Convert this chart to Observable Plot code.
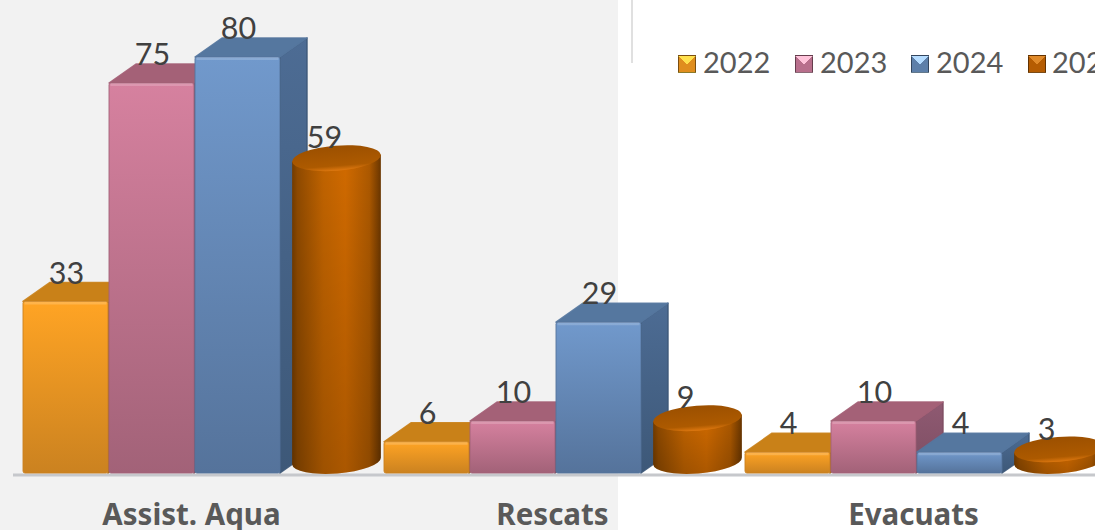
<!DOCTYPE html>
<html><head><meta charset="utf-8">
<script src="https://cdn.jsdelivr.net/npm/d3@7"></script>
<script src="https://cdn.jsdelivr.net/npm/@observablehq/plot@0.6"></script>
<style>
html,body{margin:0;padding:0;width:1095px;height:530px;overflow:hidden;background:#fff}
#wrap{position:relative;width:1095px;height:530px;overflow:hidden;background:linear-gradient(to right,#f2f2f2 618px,#fff 618px)}
#wrap svg.plot, #wrap figure{background:transparent!important;margin:0}
#rule{position:absolute;left:631px;top:0;width:2px;height:63px;background:#e0e0e0}
#legend{position:absolute;left:0;top:0;width:1095px;height:100px;font:29px Lato,sans-serif;color:#595959}
#legend span{position:absolute;top:43px;line-height:38px;white-space:nowrap}
#legend i{position:absolute;top:55px;width:16px;height:16px;border:1px solid rgba(0,0,0,.45)}
</style></head>
<body><div id="wrap"><div id="rule"></div><div id="legend"></div></div>
<script>
const categories = ["Assist. Aqua", "Rescats", "Evacuats"];
const years = ["2022", "2023", "2024", "2025"];
const v2022 = [33, 6, 4];
const v2023 = [75, 10, 10];
const v2024 = [80, 29, 4];
const v2025 = [59, 9, 3];
const seriesValues = [v2022, v2023, v2024, v2025];
const frontTop = ["#ffa424", "#d6819f", "#7199cc", "#d06a00"];
const frontBottom = ["#cb8220", "#a26278", "#55739b", "#a05200"];
const topFace = ["#c98118", "#a46177", "#55779f", "#a35500"];
const sideTop = ["#b87416", "#8f5a72", "#4d6c94", "#000"];
const sideBottom = ["#a86a14", "#7d4d62", "#3d5878", "#000"];
const swatchLight = ["#ffe14d", "#ffc3da", "#b5dcff", "#e08a2a"];
const swatchMid = ["#e08e1e", "#b86f8c", "#5d7fa9", "#b55c02"];
const legendSwatchX = [678, 795, 911, 1028];
const legendTextX = [703, 820, 936, 1052];

const rows = years.flatMap((year, s) => categories.map((category, c) => ({category, year, s, value: seriesValues[s][c]})));
const depthX = 27, depthY = 19;

function addDefs(svgNode) {
  const svg = d3.select(svgNode).insert("svg:defs", ":first-child");
  frontTop.forEach((c, i) => {
    const g = svg.append("linearGradient").attr("id", "front" + i).attr("x1", 0).attr("y1", 0).attr("x2", 0).attr("y2", 1);
    g.append("stop").attr("offset", 0).attr("stop-color", c);
    g.append("stop").attr("offset", 1).attr("stop-color", frontBottom[i]);
    const h = svg.append("linearGradient").attr("id", "side" + i).attr("x1", 0).attr("y1", 0).attr("x2", 0).attr("y2", 1);
    h.append("stop").attr("offset", 0).attr("stop-color", sideTop[i]);
    h.append("stop").attr("offset", 1).attr("stop-color", sideBottom[i]);
  });
  const b = svg.append("linearGradient").attr("id", "cyl").attr("x1", 0).attr("y1", 0).attr("x2", 1).attr("y2", 0);
  [[0, "#743c00"], [.06, "#8f4a00"], [.35, "#c06300"], [.6, "#d06a00"], [.87, "#ad5900"], [1, "#6a3600"]]
    .forEach(([o, c]) => b.append("stop").attr("offset", o).attr("stop-color", c));
  const v = svg.append("linearGradient").attr("id", "cylShade").attr("x1", 0).attr("y1", 0).attr("x2", 0).attr("y2", 1);
  v.append("stop").attr("offset", 0).attr("stop-color", "#000").attr("stop-opacity", 0);
  v.append("stop").attr("offset", 1).attr("stop-color", "#000").attr("stop-opacity", .18);
  const t = svg.append("linearGradient").attr("id", "cylTop").attr("x1", 0).attr("y1", 0).attr("x2", 0).attr("y2", 1);
  t.append("stop").attr("offset", 0).attr("stop-color", "#9c5000");
  t.append("stop").attr("offset", .8).attr("stop-color", "#ad5a00");
  t.append("stop").attr("offset", 1).attr("stop-color", "#de7810");
}

// box bars: draw depth faces behind the library's own front rect
function extrudeFor(data) {
  return function (index, scales, values, dims, ctx, next) {
    const g = next(index, scales, values, dims, ctx);
    const i0 = data[0].s;
    const bw = scales.x.bandwidth();
    const base = scales.y(0);
    const layer = d3.create("svg:g");
    const shine = d3.create("svg:g");
    for (const i of index) {
      const d = data[i];
      const x0 = scales.x(d.year), x1 = x0 + bw - 1, y0 = scales.y(d.value);
      layer.append("path")
        .attr("d", `M${x1},${y0}L${x1 + depthX},${y0 - depthY}L${x1 + depthX},${base - depthY}L${x1},${base}Z`)
        .attr("fill", `url(#side${i0})`).attr("stroke", sideBottom[i0]).attr("stroke-width", 1.5).attr("stroke-linejoin", "round");
      layer.append("path")
        .attr("d", `M${x0},${y0}L${x0 + depthX},${y0 - depthY}L${x1 + depthX},${y0 - depthY}L${x1},${y0}Z`)
        .attr("fill", topFace[i0]).attr("stroke", topFace[i0]).attr("stroke-width", 1.5).attr("stroke-linejoin", "round");
      shine.append("path").attr("d", `M${x0 + 1.5},${y0 + 1.5}H${x1 - 1.5}`)
        .attr("stroke", "#fff").attr("stroke-opacity", .18).attr("stroke-width", 3).attr("fill", "none");
    }
    g.insertBefore(layer.node(), g.firstChild);
    g.appendChild(shine.node());
    return g;
  };
}

const rows2025 = rows.filter(r => r.s === 3);

// cylinder series: the bar's scaled value becomes the cylinder height
function cylinder(index, scales) {
  const data = rows2025;
  const bw = scales.x.bandwidth();
  const layer = d3.create("svg:g");
  const rx = 44.5, ry = 12.5, rot = -4.5, a = rot * Math.PI / 180;
  const ex = rx * Math.cos(a), ey = rx * Math.sin(a);
  for (const i of index) {
    const d = data[i];
    const cx = scales.x(d.year) + bw / 2 + depthX / 2 - 1;
    const yb = scales.y(0) - 12, yt = scales.y(d.value) - 8;
    const body = `M${cx - ex},${yt - ey}L${cx - ex},${yb - ey}A${rx},${ry} ${rot} 0 0 ${cx + ex},${yb + ey}L${cx + ex},${yt + ey}Z`;
    layer.append("path").attr("d", body).attr("fill", "url(#cyl)");
    layer.append("path").attr("d", body).attr("fill", "url(#cylShade)");
    layer.append("ellipse").attr("cx", cx).attr("cy", yt).attr("rx", rx).attr("ry", ry)
      .attr("transform", `rotate(${rot} ${cx} ${yt})`).attr("fill", "url(#cylTop)");
  }
  return layer.node();
}

const boxMarks = [0, 1, 2].map(s => {
  const data = rows.filter(r => r.s === s);
  return Plot.barY(data, {
    x: "year", y: "value", fx: "category", fill: `url(#front${s})`,
    stroke: frontBottom[s], strokeWidth: 1, strokeOpacity: .9, rx: 2, insetRight: 1,
    render: extrudeFor(data)
  });
});

const plot = Plot.plot({
  width: 1095, height: 530,
  marginLeft: 0, marginRight: 0, marginTop: 57, marginBottom: 57,
  style: {background: "transparent", overflow: "hidden"},
  fx: {domain: categories, range: [12.5, 1095.5], padding: 0, label: null},
  x: {domain: years, range: [10, 354], padding: 0, axis: null},
  y: {domain: [0, 80], axis: null},
  marks: [
    Plot.ruleY([0], {stroke: "#c6c8cc", strokeWidth: 3, dy: 1.5}),
    ...boxMarks,
    Plot.barY(rows2025, {x: "year", y: "value", fx: "category", render: cylinder}),
    Plot.text(rows, {
      x: "year", y: "value", fx: "category", text: d => String(d.value),
      dy: -28, fontSize: 30.5, fontFamily: "Lato, sans-serif", fill: "#404040", style: {letterSpacing: "-1.5px"}
    }),
    Plot.axisFx({anchor: "bottom", tickSize: 0, tickPadding: 31, dx: -2.5, fontSize: 29.5, fontWeight: 700,
      fontFamily: "'Noto Sans', sans-serif", fill: "#595959", label: null})
  ]
});
addDefs(plot);
document.getElementById("wrap").prepend(plot);

const legend = d3.select("#legend");
years.forEach((y, i) => {
  legend.append("i").style("left", legendSwatchX[i] + "px")
    .style("background", `conic-gradient(from -45deg, ${swatchLight[i]} 0 90deg, ${swatchMid[i]} 90deg 360deg)`);
  legend.append("span").style("left", legendTextX[i] + "px").text(y);
});
</script>
</body></html>
